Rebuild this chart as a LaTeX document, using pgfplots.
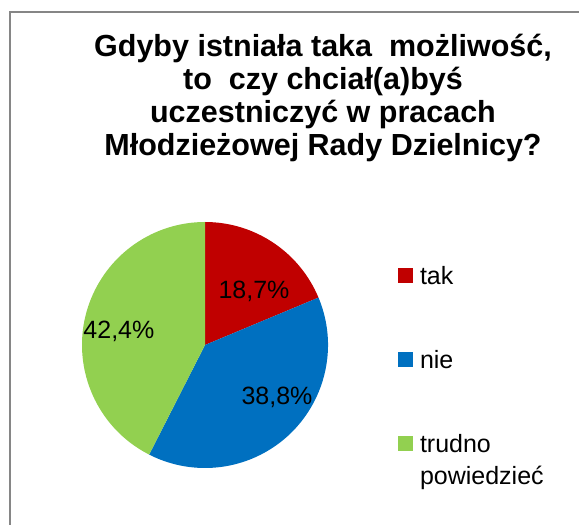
\documentclass[border=0pt]{standalone}
\usepackage{fontspec}
\setmainfont{Liberation Sans}
\usepackage{pgfplots}
\pgfplotsset{compat=1.18}
\definecolor{ctak}{HTML}{C00000}
\definecolor{cnie}{HTML}{0070C0}
\definecolor{ctru}{HTML}{92D050}
\definecolor{cframe}{HTML}{868686}
% percentages (clockwise from 12 o'clock)
\def\vtak{18.7}
\def\vnie{38.8}
\def\vtru{42.4}
\begin{document}
\begin{tikzpicture}[x=1pt,y=1pt]
\useasboundingbox (0,0) rectangle (579,525);
\draw[cframe, line width=2pt] (10,-20) -- (10,513) -- (620,513);
\node[align=center, font=\fontsize{30.5}{33}\selectfont\bfseries] at (323,427)
  {Gdyby istniała taka\ \ możliwość,\\to\ \ czy chciał(a)byś\\uczestniczyć w pracach\\Młodzieżowej Rady Dzielnicy?};
\begin{axis}[
  at={(205pt,180pt)}, anchor=center,
  width=246pt, height=246pt, scale only axis,
  xmin=-1, xmax=1, ymin=-1, ymax=1,
  hide axis, clip=false,
  legend style={draw=none, fill=none, at={(axis cs:1.54,0.715)}, anchor=north west,
    font=\fontsize{25}{33}\selectfont, row sep=55.5pt,
    cells={anchor=base west},
    /tikz/every odd column/.append style={column sep=6pt}},
  legend image code/.code={\fill[#1] (0pt,2pt) rectangle (14pt,16pt);},
]
\fill[ctak] (axis cs:0,0) -- ++(90:123pt) arc[start angle=90, delta angle=-\vtak*3.6, radius=123pt] -- cycle;
\fill[cnie] (axis cs:0,0) -- ++(90-\vtak*3.6:123pt) arc[start angle=90-\vtak*3.6, delta angle=-\vnie*3.6, radius=123pt] -- cycle;
\fill[ctru] (axis cs:0,0) -- ++(90-\vtak*3.6-\vnie*3.6:123pt) arc[start angle=90-\vtak*3.6-\vnie*3.6, end angle=-270, radius=123pt] -- cycle;
\node[font=\fontsize{25}{30}\selectfont] at (axis cs:0.398,0.44) {18,7\%};
\node[font=\fontsize{25}{30}\selectfont] at (axis cs:0.585,-0.423) {38,8\%};
\node[font=\fontsize{25}{30}\selectfont] at (axis cs:-0.70,0.114) {42,4\%};
\addlegendimage{ctak}
\addlegendentry{\strut tak}
\addlegendimage{cnie}
\addlegendentry{\strut nie}
\addlegendimage{ctru}
\addlegendentry{\begin{tabular}[t]{@{}l@{}}trudno\\[-1pt]powiedzieć\end{tabular}}
\end{axis}
\end{tikzpicture}
\end{document}
